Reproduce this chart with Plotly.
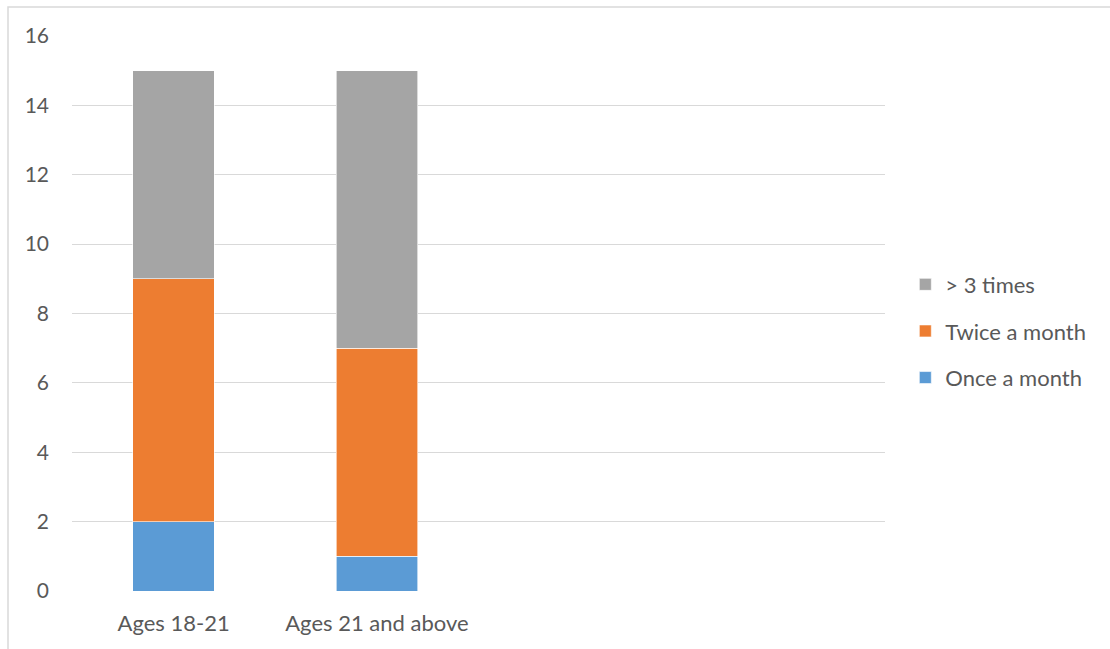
import plotly.graph_objects as go

categories = ["Ages 18-21", "Ages 21 and above"]
once_a_month = [2, 1]
twice_a_month = [7, 6]
more_than_3 = [6, 8]
y_ticks = [0, 2, 4, 6, 8, 10, 12, 14, 16]

series = [
    ("Once a month", once_a_month, "#5b9bd5", 3),
    ("Twice a month", twice_a_month, "#ed7d31", 2),
    ("> 3 times", more_than_3, "#a5a5a5", 1),
]

positions = list(range(len(categories)))

fig = go.Figure()
for name, values, color, rank in series:
    fig.add_trace(go.Bar(
        x=positions, y=values, name=name,
        marker=dict(color=color, line=dict(color="white", width=0.6)),
        legendgroup=name, legendrank=rank,
    ))

text_color = "#595959"
font_family = "Lato, Open Sans, sans-serif"

fig.update_layout(
    width=1110, height=649,
    barmode="stack", bargap=0.6,
    paper_bgcolor="white", plot_bgcolor="white",
    margin=dict(l=72, r=225, t=36, b=58),
    font=dict(family=font_family, size=22, color=text_color),
    xaxis=dict(
        range=[-0.5, 3.5], tickmode="array", tickvals=positions,
        ticktext=categories, showgrid=False, zeroline=False,
        showline=False, ticks="", ticklabelstandoff=17,
        tickfont=dict(size=22, color=text_color),
    ),
    yaxis=dict(
        range=[0, 16], tickmode="array", tickvals=y_ticks,
        showgrid=True, gridcolor="#d9d9d9", gridwidth=1.3,
        zeroline=False, showline=False, ticks="", ticklabelstandoff=22,
        tickfont=dict(size=21, color=text_color),
    ),
    legend=dict(
        x=1.025, y=0.59, xanchor="left", yanchor="top",
        traceorder="grouped", tracegroupgap=15,
        font=dict(size=22, color=text_color), itemwidth=30,
    ),
    shapes=[dict(
        type="rect", xref="paper", yref="paper",
        x0=-64 / 813, x1=1.4, y0=-0.2, y1=1 + 29 / 555,
        line=dict(color="#d9d9d9", width=1.5), layer="below",
    )],
)

fig.write_html("out.html")
